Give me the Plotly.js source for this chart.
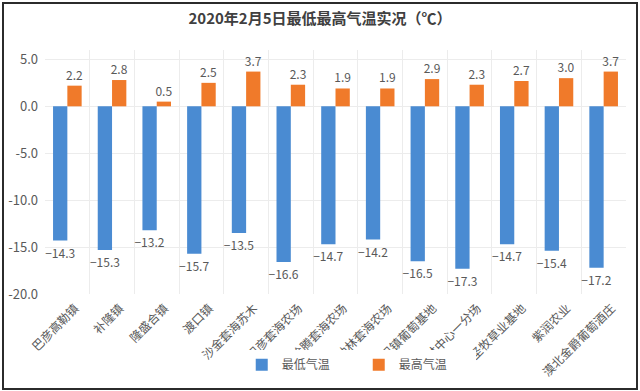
<!DOCTYPE html>
<html>
<head>
<meta charset="utf-8">
<script src="https://cdn.plot.ly/plotly-3.0.1.min.js"></script>
<style>
html,body{margin:0;padding:0;background:#fff;}
#wrap{position:relative;width:640px;height:391px;}
#chart{width:640px;height:391px;}
#frame{position:absolute;left:2px;top:2px;width:632px;height:384px;border:2px solid #2b2b2b;pointer-events:none;}
</style>
</head>
<body>
<div id="wrap"><div id="chart"></div><div id="frame"></div></div>
<script>
const categories = ["巴彦高勒镇","补隆镇","隆盛合镇","渡口镇","沙金套海苏木","巴彦套海农场","哈腾套海农场","纳林套海农场","巴镇葡萄基地","沙林中心一分场","圣牧草业基地","紫润农业","漠北金爵葡萄酒庄"];
const minTemp = [-14.3,-15.3,-13.2,-15.7,-13.5,-16.6,-14.7,-14.2,-16.5,-17.3,-14.7,-15.4,-17.2];
const maxTemp = [2.2,2.8,0.5,2.5,3.7,2.3,1.9,1.9,2.9,2.3,2.7,3.0,3.7];
const seriesNames = ["最低气温","最高气温"];
const yTicks = [5,0,-5,-10,-15,-20];

const font = "'Noto Sans CJK SC', 'Noto Sans', sans-serif";
const labelFont = {family: font, size: 12, color: "#595959"};

const traces = [
  {type:"bar", name:seriesNames[0], x:categories, y:minTemp,
   marker:{color:"#4a8bd2"}, text:minTemp.map(v=>v.toFixed(1).replace("-","−")),
   textposition:"outside", constraintext:"none", textfont:labelFont, cliponaxis:false},
  {type:"bar", name:seriesNames[1], x:categories, y:maxTemp,
   marker:{color:"#f07a2a"}, text:maxTemp.map(v=>v.toFixed(1)),
   textposition:"outside", constraintext:"none", textfont:labelFont, cliponaxis:false}
];

const layout = {
  width:640, height:391,
  margin:{l:45, r:14, t:50, b:93},
  paper_bgcolor:"#fff", plot_bgcolor:"#fff",
  title:{text:"<b>2020年2月5日最低最高气温实况（℃）</b>", x:0.5, xanchor:"center", y:0.952, yanchor:"middle",
         font:{family:font, size:15, color:"#404040"}},
  barmode:"group", bargap:0.36, bargroupgap:0,
  xaxis:{type:"category", tickangle:-45, tickson:"boundaries", showgrid:true, gridcolor:"#ececec",
         ticks:"", showline:false, zeroline:false, ticklabelstandoff:4, ticklabelshift:8,
         tickfont:{family:font, size:12, color:"#595959"}},
  yaxis:{range:[-20,6], tickvals:yTicks, ticktext:yTicks.map(v=>v.toFixed(1)),
         showgrid:true, gridcolor:"#ececec", zeroline:false, showline:false, ticks:"",
         ticklabelstandoff:6,
         tickfont:{family:font, size:13, color:"#595959"}},
  showlegend:true,
  legend:{orientation:"h", x:0.54, xanchor:"center", y:-0.29, yanchor:"middle", itemwidth:30,
          entrywidth:72, entrywidthmode:"pixels",
          font:{family:font, size:12, color:"#595959"}, traceorder:"normal"}
};

Plotly.newPlot("chart", traces, layout, {displayModeBar:false, staticPlot:true});
</script>
</body>
</html>
